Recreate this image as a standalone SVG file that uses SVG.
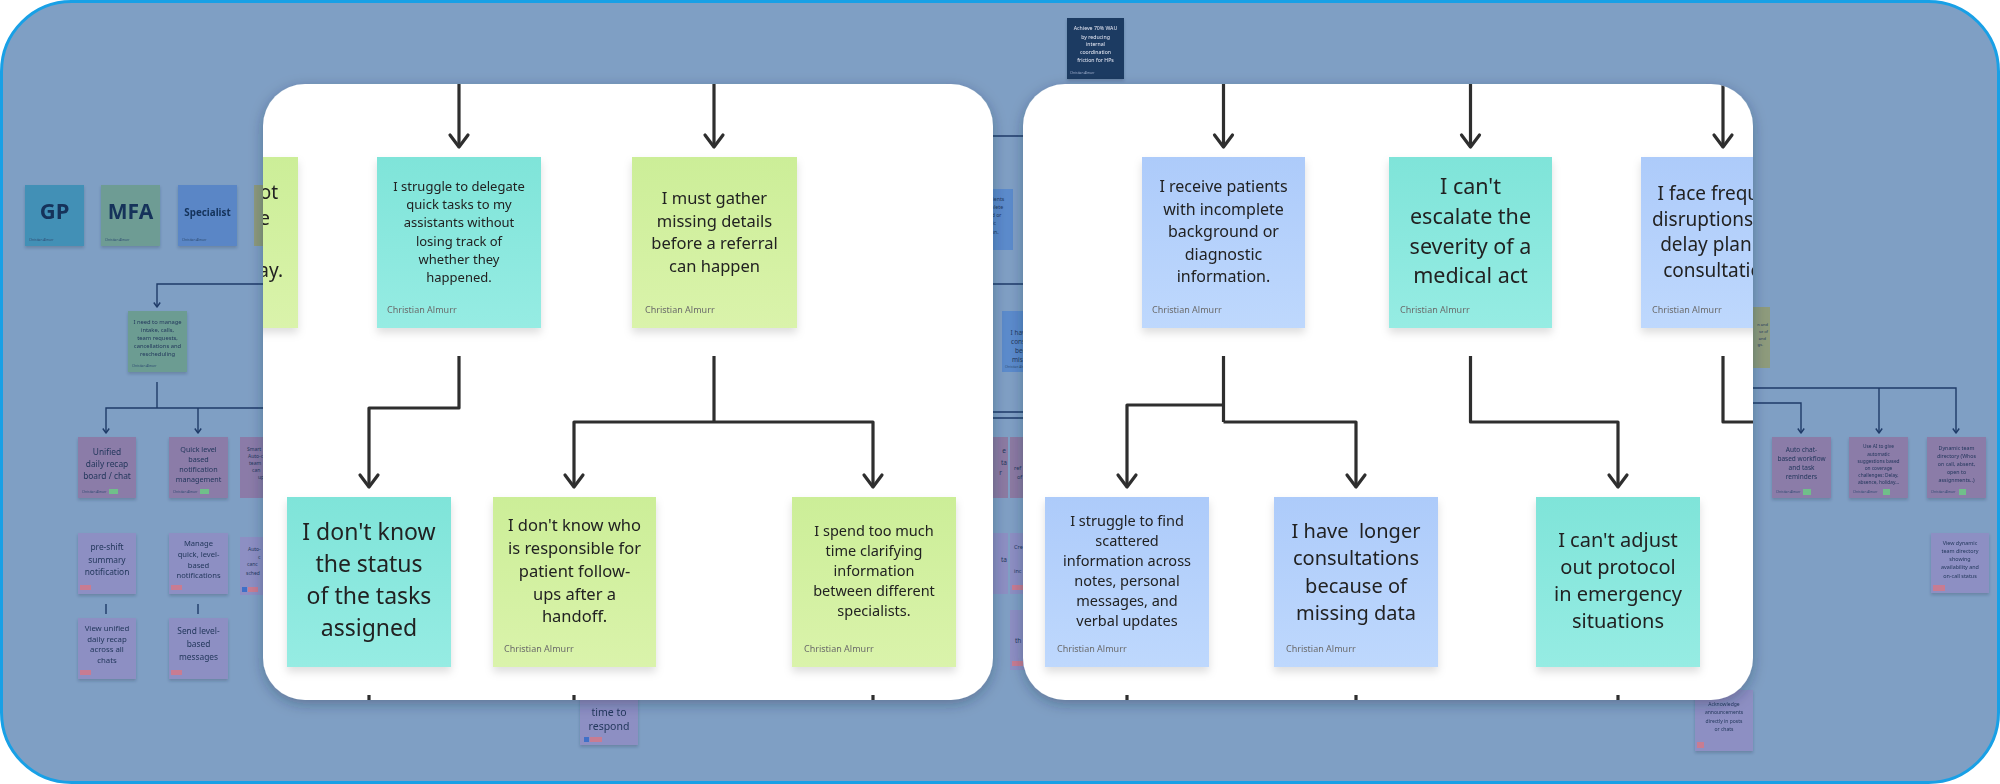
<svg xmlns="http://www.w3.org/2000/svg" width="2000" height="784" viewBox="0 0 2000 784">
<style>
.fg{font-family:"Noto Sans","Open Sans","DejaVu Sans",sans-serif;fill:#222;text-anchor:middle}
.au{font-family:"Noto Sans","DejaVu Sans",sans-serif;font-size:9px;fill:#6a6a6a}
.bt{font-family:"Noto Sans","DejaVu Sans",sans-serif;fill:#23385c;text-anchor:middle}
.bts{font-family:"Noto Sans","DejaVu Sans",sans-serif;fill:#23385c}
.ba{font-family:"Noto Sans","DejaVu Sans",sans-serif;font-size:3.2px;fill:#2f4b72}
.bc{fill:none;stroke:#1f3b68;stroke-width:1.4}
.fc{fill:none;stroke:#2e2e2e;stroke-width:3.2;stroke-linejoin:round}
.cy{fill:url(#gCy)}
.gr{fill:url(#gGr)}
.bl{fill:url(#gBl)}
.pu{fill:#8b7ba8}
.la{fill:#8d8fc3}
.ro{fill:#8c7aa2}
.tg{fill:#6fbf8a}
.tr{fill:#c87c92}
.tb{fill:#3f6fc8}
.pre{white-space:pre}
</style>
<defs>
<linearGradient id="gCy" x1="0" y1="0" x2="0" y2="1"><stop offset="0" stop-color="#7fe4d9"/><stop offset="1" stop-color="#96ece3"/></linearGradient>
<linearGradient id="gGr" x1="0" y1="0" x2="0" y2="1"><stop offset="0" stop-color="#ccee98"/><stop offset="1" stop-color="#daf3ab"/></linearGradient>
<linearGradient id="gBl" x1="0" y1="0" x2="0" y2="1"><stop offset="0" stop-color="#adcbfa"/><stop offset="1" stop-color="#bed8fd"/></linearGradient>
<filter id="pSh" x="-10%" y="-10%" width="120%" height="125%"><feDropShadow dx="0" dy="4" stdDeviation="7" flood-color="#1c2c44" flood-opacity="0.35"/></filter>
<filter id="sSh" x="-10%" y="-10%" width="120%" height="130%"><feDropShadow dx="0" dy="5" stdDeviation="4" flood-color="#000" flood-opacity="0.13"/></filter>
<filter id="bSh" x="-10%" y="-10%" width="120%" height="130%"><feDropShadow dx="0" dy="2" stdDeviation="1.5" flood-color="#1c2c44" flood-opacity="0.25"/></filter>
<clipPath id="clipL"><rect x="263" y="84" width="730" height="616" rx="42"/></clipPath>
<clipPath id="clipR"><rect x="1023" y="84" width="730" height="616" rx="42"/></clipPath>
<marker id="chev" viewBox="-15 -12 18 24" markerWidth="18" markerHeight="24" refX="0" refY="0" orient="auto" markerUnits="userSpaceOnUse" overflow="visible">
<path d="M-12,-9 L0,0 L-12,9" fill="none" stroke="#2e2e2e" stroke-width="3.2" stroke-linecap="round" stroke-linejoin="round"/>
</marker>
<marker id="bar" viewBox="-6 -4 7 8" markerWidth="7" markerHeight="8" refX="0" refY="0" orient="auto" markerUnits="userSpaceOnUse" overflow="visible">
<path d="M-4.5,-3.2 L0,0 L-4.5,3.2" fill="none" stroke="#1f3b68" stroke-width="1.4" stroke-linejoin="round"/>
</marker>
</defs>

<rect x="1.5" y="1.5" width="1997" height="781" rx="70" fill="#7f9fc4" stroke="#18a0e6" stroke-width="3"/>

<!-- background connectors -->
<g id="bg-connectors">
<path class="bc" d="M263,284 H157 V307" marker-end="url(#bar)"/>
<path class="bc" d="M157,382 V408"/>
<path class="bc" d="M263,408 H106 V433" marker-end="url(#bar)"/>
<path class="bc" d="M198,408 V433" marker-end="url(#bar)"/>
<path class="bc" d="M106,604 V614 M198,604 V614"/>
<path class="bc" d="M993,136 H1023 M993,284 H1023 M993,412 H1023 M993,418 H1023"/>
<path class="bc" d="M1753,388 H1956 V433" marker-end="url(#bar)"/>
<path class="bc" d="M1879,388 V433" marker-end="url(#bar)"/>
<path class="bc" d="M1753,403 H1801 V433" marker-end="url(#bar)"/>
</g>

<!-- background nodes -->
<g id="bg-gp" filter="url(#bSh)"><rect x="25" y="185" width="59" height="61" fill="#4390b6"/>
<text x="54.5" y="219" class="bt" style="font-size:22px;font-weight:bold;fill:#13325a">GP</text>
<text x="29" y="241" class="ba">Christian Almurr</text></g>
<g id="bg-mfa" filter="url(#bSh)"><rect x="101" y="185" width="59" height="61" fill="#6e9c94"/>
<text x="130.5" y="219" class="bt" style="font-size:21px;font-weight:bold;fill:#13325a">MFA</text>
<text x="105" y="241" class="ba">Christian Almurr</text></g>
<g id="bg-specialist" filter="url(#bSh)"><rect x="178" y="185" width="59" height="61" fill="#5a86c6"/>
<text x="207.5" y="216" class="bt" style="font-size:9.8px;font-weight:bold;fill:#13325a">Specialist</text>
<text x="182" y="241" class="ba">Christian Almurr</text></g>
<g id="bg-olive"><rect x="254" y="185" width="59" height="61" fill="#8e9b7c"/></g>
<g id="bg-goal" filter="url(#bSh)"><rect x="1067" y="18" width="57" height="61" fill="#1e3a62"/>
<g class="bt" style="font-size:5.2px;fill:#e8eef8">
<text x="1095.5" y="30">Achieve 70% WAU</text><text x="1095.5" y="38.5">by reducing</text><text x="1095.5" y="46">internal</text><text x="1095.5" y="54">coordination</text><text x="1095.5" y="61.5">friction  for HPs</text></g>
<text x="1070" y="74" class="ba" style="fill:#9fb3cf">Christian Almurr</text></g>

<g id="bg-intake" filter="url(#bSh)"><rect x="128" y="311" width="59" height="61" fill="#6c9c92"/>
<g class="bt" style="font-size:5.8px">
<text x="157.5" y="324">I need to manage</text><text x="157.5" y="332">intake, calls,</text><text x="157.5" y="340">team requests,</text><text x="157.5" y="348">cancellations and</text><text x="157.5" y="356">rescheduling</text></g>
<text x="132" y="367" class="ba">Christian Almurr</text></g>

<g id="bg-unified" filter="url(#bSh)"><rect x="78" y="437" width="58" height="61" class="pu"/>
<g class="bt" style="font-size:8.4px"><text x="107" y="455">Unified</text><text x="107" y="467">daily recap</text><text x="107" y="479">board / chat</text></g>
<text x="82" y="493" class="ba">Christian Almurr</text><rect x="109" y="489" width="9" height="5" class="tg"/></g>
<g id="bg-quick" filter="url(#bSh)"><rect x="169" y="437" width="59" height="61" class="pu"/>
<g class="bt" style="font-size:7.2px"><text x="198.5" y="451.5">Quick level</text><text x="198.5" y="461.5">based</text><text x="198.5" y="471.5">notification</text><text x="198.5" y="481.5">management</text></g>
<text x="173" y="493" class="ba">Christian Almurr</text><rect x="200" y="489" width="9" height="5" class="tg"/></g>
<g id="bg-smart"><rect x="240" y="437" width="59" height="61" class="pu"/>
<g class="bts" style="font-size:5px"><text x="247" y="451">Smart</text><text x="248" y="458">Auto-c</text><text x="249" y="465">team</text><text x="252" y="472">can</text><text x="258" y="479">up</text></g></g>

<g id="bg-preshift" filter="url(#bSh)"><rect x="78" y="533" width="58" height="61" class="la"/>
<g class="bt" style="font-size:8.4px"><text x="107" y="550">pre-shift</text><text x="107" y="563">summary</text><text x="107" y="575">notification</text></g>
<rect x="80" y="585" width="11" height="5" class="tr"/></g>
<g id="bg-manage" filter="url(#bSh)"><rect x="169" y="533" width="59" height="61" class="la"/>
<g class="bt" style="font-size:7.6px"><text x="198.5" y="546">Manage</text><text x="198.5" y="557">quick, level-</text><text x="198.5" y="568">based</text><text x="198.5" y="578">notifications</text></g>
<rect x="171" y="585" width="11" height="5" class="tr"/></g>
<g id="bg-auto"><rect x="240" y="537" width="59" height="58" class="la"/>
<g class="bts" style="font-size:5px"><text x="248" y="551">Auto-</text><text x="258" y="559">c</text><text x="247" y="566">canc</text><text x="246" y="575">sched</text></g>
<rect x="242" y="587" width="5" height="5" class="tb"/><rect x="248" y="587" width="10" height="5" class="tr"/></g>

<g id="bg-viewunified" filter="url(#bSh)"><rect x="78" y="618" width="58" height="61" class="la"/>
<g class="bt" style="font-size:7.8px"><text x="107" y="631">View unified</text><text x="107" y="642">daily recap</text><text x="107" y="652">across all</text><text x="107" y="663">chats</text></g>
<rect x="80" y="670" width="11" height="5" class="tr"/></g>
<g id="bg-send" filter="url(#bSh)"><rect x="169" y="618" width="59" height="61" class="la"/>
<g class="bt" style="font-size:8.4px"><text x="198.5" y="634">Send level-</text><text x="198.5" y="647">based</text><text x="198.5" y="660">messages</text></g>
<rect x="171" y="670" width="11" height="5" class="tr"/></g>

<g id="bg-respond" filter="url(#bSh)"><rect x="580" y="684" width="58" height="61" class="la"/>
<g class="bt" style="font-size:10.5px"><text x="609" y="716">time to</text><text x="609" y="730">respond</text></g>
<rect x="584" y="737" width="5" height="5" class="tb"/><rect x="590" y="737" width="12" height="5" class="tr"/></g>

<g id="bg-receive"><rect x="954" y="189" width="59" height="61" fill="#5b8bcc"/>
<g class="bt" style="font-size:5.2px"><text x="983.5" y="201">I receive patients</text><text x="983.5" y="209">with incomplete</text><text x="983.5" y="217">background or</text><text x="983.5" y="225">diagnostic</text><text x="983.5" y="234">information.</text></g></g>
<g id="bg-longer"><rect x="1002" y="311" width="59" height="61" fill="#5b8bcc"/>
<g class="bt" style="font-size:6.5px"><text x="1031.5" y="335" class="pre" xml:space="preserve">I have  longer</text><text x="1031.5" y="344">consultations</text><text x="1031.5" y="353">because of</text><text x="1031.5" y="362">missing data</text></g>
<text x="1005" y="368" class="ba">Christian Almurr</text></g>
<g id="bg-rose1"><rect x="949" y="437" width="59" height="61" class="ro"/>
<g class="bt" style="font-size:6.5px;text-anchor:end"><text x="1006" y="453">e</text><text x="1007" y="465">ta</text><text x="1002" y="475">r</text></g></g>
<g id="bg-rose2"><rect x="1010" y="437" width="59" height="61" class="ro"/>
<g class="bts" style="font-size:5.5px"><text x="1014" y="470">ref</text><text x="1017" y="479">of</text></g></g>
<g id="bg-lav1"><rect x="949" y="533" width="59" height="61" class="la"/>
<text x="1007" y="562" class="bt" style="font-size:6.5px;text-anchor:end">ta</text></g>
<g id="bg-lav2"><rect x="1010" y="533" width="59" height="61" class="la"/>
<g class="bts" style="font-size:5.5px"><text x="1014" y="549">Cre</text><text x="1014" y="573">inc</text></g>
<rect x="1012" y="585" width="11" height="5" class="tr"/></g>
<g id="bg-lav3"><rect x="1010" y="610" width="59" height="60" class="la"/>
<text x="1015" y="643" class="bts" style="font-size:6.5px">th</text>
<rect x="1012" y="661" width="11" height="5" class="tr"/></g>

<g id="bg-olive2"><rect x="1711" y="307" width="59" height="61" fill="#8e9b7c"/>
<g class="bt" style="font-size:4px;text-anchor:end"><text x="1768" y="326">n and</text><text x="1768" y="333">se of</text><text x="1766" y="340">and</text><text x="1763" y="346">gs.</text></g></g>
<g id="bg-autochat" filter="url(#bSh)"><rect x="1772" y="437" width="59" height="61" class="pu"/>
<g class="bt" style="font-size:6.5px"><text x="1801.5" y="452">Auto chat-</text><text x="1801.5" y="461">based workflow</text><text x="1801.5" y="470">and task</text><text x="1801.5" y="479">reminders</text></g>
<text x="1776" y="493" class="ba">Christian Almurr</text><rect x="1803" y="489" width="8" height="6" class="tg"/></g>
<g id="bg-useai" filter="url(#bSh)"><rect x="1849" y="437" width="59" height="61" class="pu"/>
<g class="bt" style="font-size:4.8px"><text x="1878.5" y="448">Use AI to give</text><text x="1878.5" y="455.5">automatic</text><text x="1878.5" y="463">suggestions based</text><text x="1878.5" y="470">on coverage</text><text x="1878.5" y="477">challenges: Delay,</text><text x="1878.5" y="484">absence, holiday...</text></g>
<text x="1853" y="493" class="ba">Christian Almurr</text><rect x="1883" y="489" width="7" height="6" class="tg"/></g>
<g id="bg-dynamic" filter="url(#bSh)"><rect x="1927" y="437" width="59" height="61" class="pu"/>
<g class="bt" style="font-size:5.3px"><text x="1956.5" y="450">Dynamic team</text><text x="1956.5" y="458">directory (Whos</text><text x="1956.5" y="466">on call, absent,</text><text x="1956.5" y="474">open to</text><text x="1956.5" y="482">assignments..)</text></g>
<text x="1931" y="493" class="ba">Christian Almurr</text><rect x="1959" y="489" width="7" height="6" class="tg"/></g>
<g id="bg-viewdynamic" filter="url(#bSh)"><rect x="1931" y="533" width="58" height="60" class="la"/>
<g class="bt" style="font-size:5.4px"><text x="1960" y="545">View dynamic</text><text x="1960" y="553">team directory</text><text x="1960" y="561">showing</text><text x="1960" y="569">availability and</text><text x="1960" y="578">on-call status</text></g>
<rect x="1933" y="585" width="12" height="6" class="tr"/></g>
<g id="bg-ack" filter="url(#bSh)"><rect x="1695" y="690" width="58" height="61" class="la"/>
<g class="bt" style="font-size:5px"><text x="1724" y="706">Acknowledge</text><text x="1724" y="714">announcements</text><text x="1724" y="723">directly in posts</text><text x="1724" y="731">or chats</text></g>
<rect x="1697" y="742" width="7" height="6" class="tr"/></g>

<!-- LEFT PANEL -->
<g id="panel-left">
<rect x="263" y="84" width="730" height="616" rx="42" fill="#fff" filter="url(#pSh)"/>
<g clip-path="url(#clipL)">
<g id="connectors-left">
<path class="fc" d="M459,84 V147" marker-end="url(#chev)"/>
<path class="fc" d="M714,84 V147" marker-end="url(#chev)"/>
<path class="fc" d="M459,356 V408 H369 V487" marker-end="url(#chev)"/>
<path class="fc" d="M714,356 V422"/>
<path class="fc" d="M714,422 H574 V487" marker-end="url(#chev)"/>
<path class="fc" d="M714,422 H873 V487" marker-end="url(#chev)"/>
<path class="fc" d="M369,695 V704 M574,695 V704 M873,695 V704"/>
</g>
<g id="node-partial-left" filter="url(#sSh)"><rect x="134" y="157" width="164" height="171" class="gr"/>
<g class="fg" style="font-size:19px;text-anchor:end"><text x="278" y="199">ot</text><text x="270" y="225">e</text><text x="283" y="277">ay.</text></g></g>
<g id="node-delegate" filter="url(#sSh)"><rect x="377" y="157" width="164" height="171" class="cy"/>
<g class="fg" style="font-size:13px"><text x="459" y="191">I struggle to delegate</text><text x="459" y="209.2">quick tasks to my</text><text x="459" y="227.4">assistants without</text><text x="459" y="245.6">losing track of</text><text x="459" y="263.8">whether they</text><text x="459" y="282">happened.</text></g>
<text x="387" y="313" class="au">Christian Almurr</text></g>
<g id="node-gather" filter="url(#sSh)"><rect x="632" y="157" width="165" height="171" class="gr"/>
<g class="fg" style="font-size:16.5px"><text x="714.5" y="204">I must gather</text><text x="714.5" y="226.5">missing details</text><text x="714.5" y="249">before a referral</text><text x="714.5" y="271.5">can happen</text></g>
<text x="645" y="313" class="au">Christian Almurr</text></g>
<g id="node-status" filter="url(#sSh)"><rect x="287" y="497" width="164" height="170" class="cy"/>
<g class="fg" style="font-size:23px"><text x="369" y="540">I don't know</text><text x="369" y="572">the status</text><text x="369" y="604">of the tasks</text><text x="369" y="636">assigned</text></g></g>
<g id="node-responsible" filter="url(#sSh)"><rect x="493" y="497" width="163" height="170" class="gr"/>
<g class="fg" style="font-size:16.5px"><text x="574.5" y="531">I don't know who</text><text x="574.5" y="554">is responsible for</text><text x="574.5" y="577">patient follow-</text><text x="574.5" y="599.5">ups after a</text><text x="574.5" y="622">handoff.</text></g>
<text x="504" y="652" class="au">Christian Almurr</text></g>
<g id="node-clarifying" filter="url(#sSh)"><rect x="792" y="497" width="164" height="170" class="gr"/>
<g class="fg" style="font-size:14.5px"><text x="874" y="536">I spend too much</text><text x="874" y="556">time clarifying</text><text x="874" y="576">information</text><text x="874" y="596">between different</text><text x="874" y="616">specialists.</text></g>
<text x="804" y="652" class="au">Christian Almurr</text></g>
</g>
</g>

<!-- RIGHT PANEL -->
<g id="panel-right">
<rect x="1023" y="84" width="730" height="616" rx="42" fill="#fff" filter="url(#pSh)"/>
<g clip-path="url(#clipR)">
<g id="connectors-right">
<path class="fc" d="M1223.5,84 V147" marker-end="url(#chev)"/>
<path class="fc" d="M1470.5,84 V147" marker-end="url(#chev)"/>
<path class="fc" d="M1723,84 V147" marker-end="url(#chev)"/>
<path class="fc" d="M1223.5,356 V422"/>
<path class="fc" d="M1223.5,405 H1127 V487" marker-end="url(#chev)"/>
<path class="fc" d="M1223.5,422 H1356 V487" marker-end="url(#chev)"/>
<path class="fc" d="M1470.5,356 V422 H1618 V487" marker-end="url(#chev)"/>
<path class="fc" d="M1723,356 V422 H1770"/>
<path class="fc" d="M1127,695 V704 M1356,695 V704 M1618,695 V704"/>
</g>
<g id="node-receive" filter="url(#sSh)"><rect x="1142" y="157" width="163" height="171" class="bl"/>
<g class="fg" style="font-size:16px"><text x="1223.5" y="192">I receive patients</text><text x="1223.5" y="214.5">with incomplete</text><text x="1223.5" y="237">background or</text><text x="1223.5" y="259.5">diagnostic</text><text x="1223.5" y="282">information.</text></g>
<text x="1152" y="313" class="au">Christian Almurr</text></g>
<g id="node-escalate" filter="url(#sSh)"><rect x="1389" y="157" width="163" height="171" class="cy"/>
<g class="fg" style="font-size:21.5px"><text x="1470.5" y="194">I can't</text><text x="1470.5" y="224">escalate the</text><text x="1470.5" y="253.5">severity of a</text><text x="1470.5" y="283">medical act</text></g>
<text x="1400" y="313" class="au">Christian Almurr</text></g>
<g id="node-disruptions" filter="url(#sSh)"><rect x="1641" y="157" width="164" height="171" class="bl"/>
<g class="fg" style="font-size:19px"><text x="1723" y="200">I face frequent</text><text x="1723" y="225.5">disruptions that</text><text x="1723" y="251">delay planned</text><text x="1723" y="277">consultations</text></g>
<text x="1652" y="313" class="au">Christian Almurr</text></g>
<g id="node-scattered" filter="url(#sSh)"><rect x="1045" y="497" width="164" height="170" class="bl"/>
<g class="fg" style="font-size:14.5px"><text x="1127" y="526">I struggle to find</text><text x="1127" y="546">scattered</text><text x="1127" y="566">information across</text><text x="1127" y="586">notes, personal</text><text x="1127" y="606">messages, and</text><text x="1127" y="626">verbal updates</text></g>
<text x="1057" y="652" class="au">Christian Almurr</text></g>
<g id="node-longer" filter="url(#sSh)"><rect x="1274" y="497" width="164" height="170" class="bl"/>
<g class="fg" style="font-size:20px"><text x="1356" y="538" class="fg pre" xml:space="preserve">I have  longer</text><text x="1356" y="565">consultations</text><text x="1356" y="592.5">because of</text><text x="1356" y="620">missing data</text></g>
<text x="1286" y="652" class="au">Christian Almurr</text></g>
<g id="node-protocol" filter="url(#sSh)"><rect x="1536" y="497" width="164" height="170" class="cy"/>
<g class="fg" style="font-size:20px"><text x="1618" y="547">I can't adjust</text><text x="1618" y="574">out protocol</text><text x="1618" y="601">in emergency</text><text x="1618" y="628">situations</text></g></g>
</g>
</g>
</svg>
